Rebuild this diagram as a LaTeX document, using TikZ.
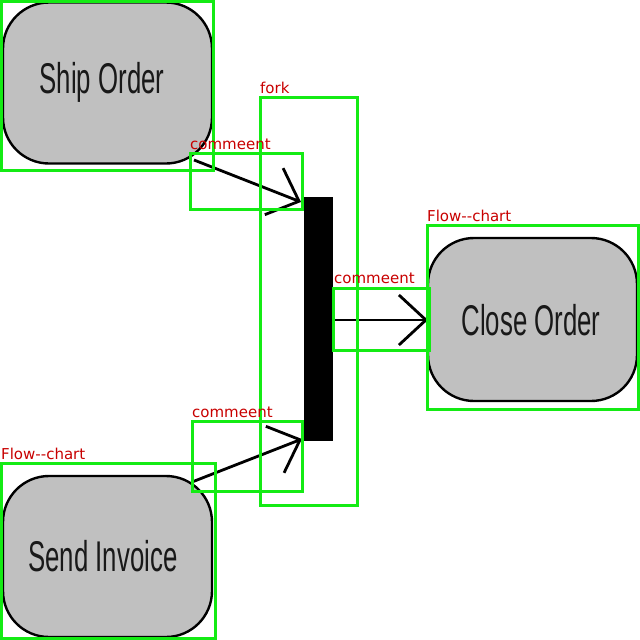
\documentclass[tikz,border=0pt]{standalone}
\usepackage{fontspec}
\setmainfont{Liberation Sans}
\newfontfamily\tagfont{DejaVu Sans}
\usetikzlibrary{arrows.meta}
\definecolor{actfill}{RGB}{192,192,192}
\definecolor{boxgreen}{RGB}{20,235,20}
\definecolor{tagred}{RGB}{200,0,0}
\tikzset{
  activity/.style={draw=black, line width=2.4pt, fill=actfill, rounded corners=46pt,
    minimum width=209pt, minimum height=161pt, inner sep=0pt},
  acttext/.style={text=black!90, font=\fontsize{43}{43}\selectfont, xscale=0.6, inner sep=0pt},
  forkbar/.style={fill=black, draw=none, minimum width=29pt, minimum height=244pt, inner sep=0pt},
  flow/.style={draw=black, line width=2.8pt, -{Straight Barb[length=27pt, width=50pt, line width=2.8pt]}},
  tagbox/.style={draw=boxgreen, line width=3pt},
  tag/.style={text=tagred, font=\tagfont\fontsize{15}{15}\selectfont, anchor=south west, inner sep=0pt}
}
\begin{document}
\begin{tikzpicture}[x=1pt, y=-1pt]
  \useasboundingbox (0,0) rectangle (640,640);
  % activities
  \node[activity] (ship) at (107.5,83) {};
  \node[acttext] (shiptxt) at (102,82) {Ship Order};
  \node[activity, minimum height=163pt] (close) at (532.5,319.5) {};
  \node[acttext] (closetxt) at (531,320) {Close Order};
  \node[activity] (send) at (107.5,556.5) {};
  \node[acttext] (sendtxt) at (103,556) {Send Invoice};
  % fork bar
  \node[forkbar] (fork) at (318.5,319) {};
  % connector end points
  \coordinate (shipout) at (194,160);
  \coordinate (forkin1) at (301,202);
  \coordinate (sendout) at (192,482);
  \coordinate (forkin2) at (302,439);
  \coordinate (forkout) at (333,320);
  \coordinate (closein) at (428,320);
  \draw[flow] (shipout) -- (forkin1);
  \draw[flow] (sendout) -- (forkin2);
  \draw[flow] (forkout) -- (closein);
  % labelled regions
  \draw[tagbox] (1,1) rectangle (213,170);
  \draw[tagbox] (260,97) rectangle (357,505);
  \node[tag] (t1) at (260,94) {fork};
  \draw[tagbox] (190,153) rectangle (302,209);
  \node[tag] (t2) at (190,150) {commeent};
  \draw[tagbox] (192,421) rectangle (302,491);
  \node[tag] (t3) at (192,418) {commeent};
  \draw[tagbox] (333,288) rectangle (429,350);
  \node[tag] (t4) at (334,284) {commeent};
  \draw[tagbox] (427,225) rectangle (638,409);
  \node[tag] (t5) at (427,222) {Flow--chart};
  \draw[tagbox] (1,463) rectangle (215,638);
  \node[tag] (t6) at (1,460) {Flow--chart};
\end{tikzpicture}
\end{document}
